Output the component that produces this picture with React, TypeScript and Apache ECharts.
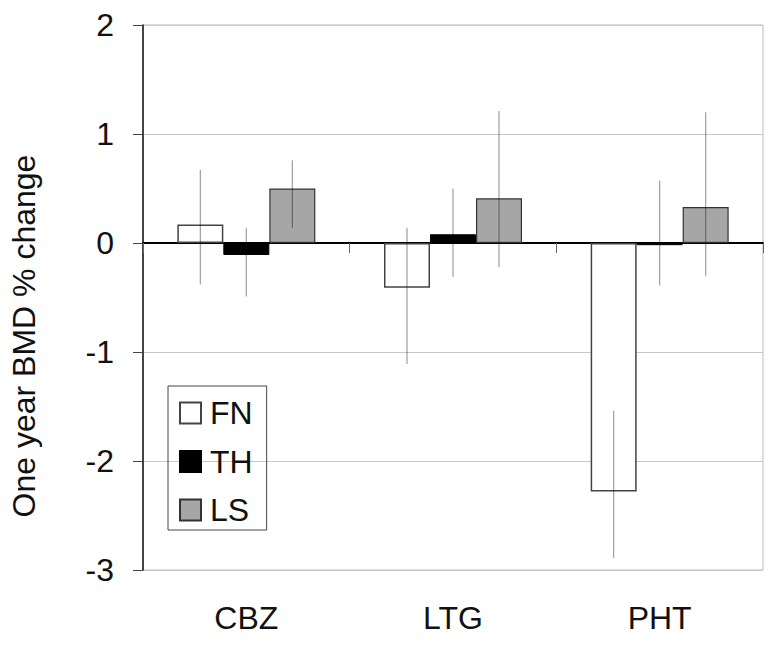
import React, { useEffect, useRef } from "react";
import * as echarts from "echarts";

const categories = ["CBZ", "LTG", "PHT"];
const seriesNames = ["FN", "TH", "LS"];
const fnValues = [0.17, -0.41, -2.28];
const thValues = [-0.11, 0.08, -0.02];
const lsValues = [0.5, 0.41, 0.33];
const fnLow = [-0.38, -1.11, -2.89];
const fnHigh = [0.67, 0.14, -1.54];
const thLow = [-0.49, -0.31, -0.39];
const thHigh = [0.14, 0.5, 0.57];
const lsLow = [0.14, -0.22, -0.3];
const lsHigh = [0.76, 1.21, 1.2];
const yTicks = [-3, -2, -1, 0, 1, 2];

const FONT = "'Liberation Sans', Arial, sans-serif";
const BAR_W = 46;

export default function App() {
  const ref = useRef<HTMLDivElement>(null);
  useEffect(() => {
    if (!ref.current) return;
    const chart = echarts.init(ref.current, null, { renderer: "svg" });

    const values = [fnValues, thValues, lsValues];
    const lows = [fnLow, thLow, lsLow];
    const highs = [fnHigh, thHigh, lsHigh];
    const styles = [
      { color: "#ffffff", borderColor: "#444", borderWidth: 1.5 },
      { color: "#000000", borderColor: "#000", borderWidth: 1 },
      { color: "#a6a6a6", borderColor: "#333", borderWidth: 1.2 },
    ];

    const barSeries = seriesNames.map((name, i) => ({
      name,
      type: "bar",
      xAxisIndex: 0,
      barWidth: BAR_W,
      barGap: "0%",
      itemStyle: styles[i],
      data: values[i],
      z: 2,
    }));

    const errSeries = seriesNames.map((name, i) => ({
      type: "custom",
      xAxisIndex: 0,
      z: 3,
      silent: true,
      data: categories.map((_, c) => [c, lows[i][c], highs[i][c]]),
      renderItem: (params: any, api: any) => {
        const c = api.value(0);
        const p1 = api.coord([c, api.value(1)]);
        const p2 = api.coord([c, api.value(2)]);
        const x = p1[0] + (i - 1) * BAR_W;
        return {
          type: "line",
          shape: { x1: x, y1: p1[1], x2: x, y2: p2[1] },
          style: { stroke: "rgba(0,0,0,0.38)", lineWidth: 1.2 },
        };
      },
    }));

    chart.setOption({
      animation: false,
      backgroundColor: "#ffffff",
      textStyle: { fontFamily: FONT },
      grid: {
        left: 143,
        right: 10,
        top: 25,
        bottom: 75,
        show: true,
        borderColor: "#bbbbbb",
        borderWidth: 1,
      },
      legend: {
        orient: "vertical",
        left: 168,
        top: 386,
        data: seriesNames,
        icon: "rect",
        itemWidth: 21,
        itemHeight: 21,
        itemGap: 16.5,
        padding: [11, 14, 4, 11],
        borderColor: "#444",
        borderWidth: 1,
        selectedMode: false,
        textStyle: { fontSize: 32, color: "#111", fontFamily: FONT, padding: [0, 0, 0, 4] },
      },
      xAxis: [
        {
          type: "category",
          data: categories,
          position: "top",
          axisLine: { onZero: true, lineStyle: { color: "#000", width: 2 } },
          axisTick: { show: true, inside: true, length: 10, lineStyle: { color: "#666" } },
          axisLabel: { show: false },
          splitLine: { show: false },
        },
        {
          type: "category",
          data: categories,
          position: "bottom",
          axisLine: { show: false, onZero: false },
          axisTick: { show: false },
          axisLabel: { fontSize: 32, color: "#111", margin: 32, fontFamily: FONT },
          splitLine: { show: false },
        },
      ],
      yAxis: {
        type: "value",
        min: yTicks[0],
        max: yTicks[yTicks.length - 1],
        interval: 1,
        axisLine: { show: true, lineStyle: { color: "#111", width: 1.5 } },
        axisTick: { show: true, length: 10, lineStyle: { color: "#444" } },
        axisLabel: { fontSize: 32, color: "#111", margin: 29, fontFamily: FONT },
        splitLine: { show: true, lineStyle: { color: "#c8c8c8", width: 1 } },
      },
      graphic: [
        {
          type: "text",
          x: 24,
          y: 336,
          rotation: Math.PI / 2,
          style: {
            text: "One year BMD % change",
            font: `32px ${FONT}`,
            fill: "#111",
            textAlign: "center",
            textVerticalAlign: "middle",
          },
        },
      ],
      series: [...barSeries, ...errSeries],
    });

    return () => chart.dispose();
  }, []);

  return (
    <div
      ref={ref}
      style={{ position: "absolute", left: 0, top: 0, width: 773, height: 645 }}
    />
  );
}
